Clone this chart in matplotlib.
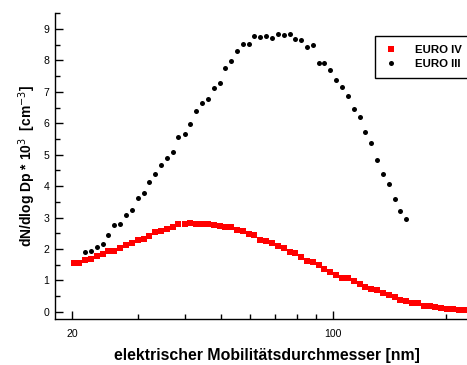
import matplotlib
matplotlib.use("Agg")
from matplotlib import pyplot as plt
from matplotlib import ticker

# SMPS channel midpoints [nm]
diameters = [20.2, 20.9, 21.7, 22.5, 23.3, 24.1, 25.0, 25.9, 26.9, 27.9,
             28.9, 30.0, 31.1, 32.2, 33.4, 34.6, 35.9, 37.2, 38.5, 40.0,
             41.4, 42.9, 44.5, 46.1, 47.8, 49.6, 51.4, 53.3, 55.2, 57.3,
             59.4, 61.5, 63.8, 66.1, 68.5, 71.0, 73.7, 76.4, 79.1, 82.0,
             85.1, 88.2, 91.4, 94.7, 98.2, 101.8, 105.5, 109.4, 113.4, 117.6,
             121.9, 126.3, 131.0, 135.8, 140.7, 145.9, 151.2, 156.8, 162.5, 168.5,
             174.7, 181.1, 187.7, 194.6, 201.7, 209.1, 216.7, 224.7]

euro4 = [1.55, 1.55, 1.65, 1.69, 1.78, 1.84, 1.92, 1.92, 2.02, 2.13,
         2.18, 2.29, 2.33, 2.41, 2.55, 2.56, 2.62, 2.71, 2.78, 2.78,
         2.82, 2.78, 2.80, 2.79, 2.76, 2.73, 2.71, 2.71, 2.60, 2.56,
         2.48, 2.43, 2.28, 2.25, 2.19, 2.09, 2.02, 1.90, 1.87, 1.74,
         1.62, 1.57, 1.50, 1.37, 1.27, 1.17, 1.07, 1.07, 0.98, 0.87,
         0.79, 0.73, 0.68, 0.61, 0.53, 0.46, 0.39, 0.35, 0.29, 0.27,
         0.19, 0.17, 0.14, 0.12, 0.10, 0.09, 0.05, 0.05]

# EURO III starts at the third channel
euro3 = [1.90, 1.93, 2.06, 2.17, 2.44, 2.76, 2.78, 3.08, 3.24, 3.63,
         3.77, 4.12, 4.39, 4.67, 4.89, 5.09, 5.57, 5.67, 5.97, 6.39,
         6.66, 6.78, 7.13, 7.28, 7.75, 7.99, 8.31, 8.53, 8.53, 8.78,
         8.75, 8.78, 8.71, 8.85, 8.81, 8.83, 8.68, 8.64, 8.43, 8.50,
         7.91, 7.91, 7.70, 7.39, 7.15, 6.86, 6.45, 6.20, 5.71, 5.38,
         4.83, 4.39, 4.08, 3.59, 3.21, 2.96]
d_euro3 = diameters[2:2 + len(euro3)]

x_major = [20, 100]
x_minor = [30, 40, 50, 60, 70, 80, 90, 200]

plt.rcParams['font.family'] = ['Liberation Sans', 'DejaVu Sans']

fig = plt.figure(figsize=(4.67, 3.65), dpi=100)
ax = fig.add_axes([55 / 467, 1 - 319 / 365, 412 / 467, 306 / 365])

ax.plot(diameters, euro4, 's', color='#ff0000', markersize=4.2, markeredgewidth=0,
        label='EURO IV')
ax.plot(d_euro3, euro3, 'o', color='black', markersize=3.6, markeredgewidth=0,
        label='EURO III')

ax.set_xscale('log')
ax.set_xlim(17.98, 228.1)
ax.set_ylim(-0.23, 9.51)

ax.xaxis.set_major_locator(ticker.FixedLocator(x_major))
ax.xaxis.set_minor_locator(ticker.FixedLocator(x_minor))
ax.xaxis.set_major_formatter(ticker.FixedFormatter([str(v) for v in x_major]))
ax.xaxis.set_minor_formatter(ticker.NullFormatter())
ax.yaxis.set_major_locator(ticker.MultipleLocator(1))
ax.yaxis.set_minor_locator(ticker.MultipleLocator(0.5))

ax.tick_params(which='major', direction='in', length=6, width=1, labelsize=7.6)
ax.tick_params(which='minor', direction='in', length=3.5, width=1)
ax.tick_params(axis='x', which='major', pad=7)
ax.tick_params(axis='y', which='major', pad=4)

for s in ['top', 'right']:
    ax.spines[s].set_visible(False)
for s in ['left', 'bottom']:
    ax.spines[s].set_linewidth(1)

ax.set_xlabel('elektrischer Mobilitätsdurchmesser [nm]', fontsize=11.4,
              fontweight='bold')
ax.xaxis.set_label_coords(0.515, -0.095)
ax.set_ylabel('dN/dlog Dp * 10$^{3}$  [cm$^{-3}$]', fontsize=10,
              fontweight='bold', labelpad=4)

leg = ax.legend(loc='upper left', bbox_to_anchor=(375 / 467, 1 - 36 / 365),
                bbox_transform=fig.transFigure, frameon=True, fancybox=False,
                edgecolor='black', framealpha=1, prop={'weight': 'bold', 'size': 8.2},
                handletextpad=1.5, handlelength=1.2, borderpad=0.8, labelspacing=0.3,
                borderaxespad=0, markerscale=1.0)
leg.get_frame().set_linewidth(1)

fig.savefig('out.png', dpi=100)
